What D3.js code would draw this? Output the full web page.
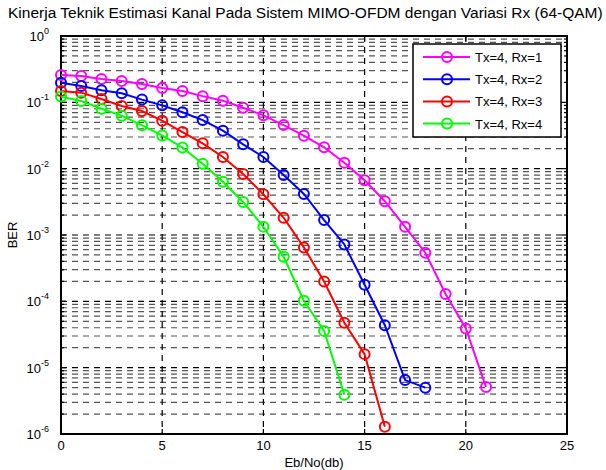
<!DOCTYPE html>
<html><head><meta charset="utf-8">
<script src="https://cdn.jsdelivr.net/npm/d3@7"></script>
<style>body{margin:0;background:#fff}svg{display:block;font-family:"Liberation Sans",Arial,sans-serif}</style>
</head><body><svg id="c" width="606" height="470"></svg>
<script>
const title = "Kinerja Teknik Estimasi Kanal Pada Sistem MIMO-OFDM dengan Variasi Rx (64-QAM)";
const xLabel = "Eb/No(db)";
const yLabel = "BER";
const xTicks = [0,5,10,15,20,25];
const yExps = [0,-1,-2,-3,-4,-5,-6];
const seriesNames = ["Tx=4, Rx=1","Tx=4, Rx=2","Tx=4, Rx=3","Tx=4, Rx=4"];
const seriesColors = ["#ff00ff","#0000ff","#ff0000","#00ff00"];
const rx1 = [0.258,0.249,0.225,0.21,0.189,0.164,0.148,0.124,0.106,0.083,0.0637,0.0455,0.0314,0.021,0.0123,0.00667,0.00323,0.00133,5.4e-4,1.29e-4,3.9e-5,5.1e-6];
const rx2 = [0.198,0.176,0.152,0.137,0.11,0.09,0.0708,0.054,0.0374,0.0233,0.015,0.008,0.00416,0.00168,7.2e-4,1.78e-4,4.36e-5,6.5e-6,5.0e-6];
const rx3 = [0.148,0.14,0.112,0.088,0.074,0.0529,0.0357,0.0241,0.015,0.0083,0.0041,0.00182,6.5e-4,1.99e-4,4.76e-5,1.6e-5,1.29e-6];
const rx4 = [0.122,0.105,0.08,0.063,0.045,0.0317,0.0208,0.0119,0.00636,0.00315,0.00133,4.7e-4,1.02e-4,3.57e-5,3.9e-6];
const allSeries = [rx1,rx2,rx3,rx4];

const svg = d3.select("#c");
const L=61,R=567,T=36,B=434;
const x = d3.scaleLinear().domain([0,25]).range([L,R]);
const y = d3.scaleLog().domain([1e-6,1]).range([B,T]);

// grid
const g = svg.append("g");
const minorVals = [];
for (let e=-6;e<0;e++) for (let m=2;m<=9;m++) minorVals.push(m*Math.pow(10,e));
g.selectAll(".hmin").data(minorVals).enter().append("line")
 .attr("x1",L).attr("x2",R).attr("y1",d=>y(d)).attr("y2",d=>y(d))
 .attr("stroke","#555").attr("stroke-width",1.2).attr("stroke-dasharray","6,5");
g.selectAll(".hmaj").data(yExps.slice(1,-1)).enter().append("line")
 .attr("x1",L).attr("x2",R).attr("y1",d=>y(Math.pow(10,d))).attr("y2",d=>y(Math.pow(10,d)))
 .attr("stroke","#000").attr("stroke-width",1.2).attr("stroke-dasharray","6,5");
g.selectAll(".vmaj").data(xTicks.slice(1,-1)).enter().append("line")
 .attr("x1",d=>x(d)).attr("x2",d=>x(d)).attr("y1",T).attr("y2",B)
 .attr("stroke","#000").attr("stroke-width",1.2).attr("stroke-dasharray","6,5");

// ticks inside
const tk = svg.append("g").attr("stroke","#000").attr("stroke-width",1.2);
xTicks.forEach(v=>{
  tk.append("line").attr("x1",x(v)).attr("x2",x(v)).attr("y1",B).attr("y2",B-5);
  tk.append("line").attr("x1",x(v)).attr("x2",x(v)).attr("y1",T).attr("y2",T+5);
});
yExps.forEach(e=>{
  const yy=y(Math.pow(10,e));
  tk.append("line").attr("x1",L).attr("x2",L+5).attr("y1",yy).attr("y2",yy);
  tk.append("line").attr("x1",R).attr("x2",R-5).attr("y1",yy).attr("y2",yy);
});
minorVals.forEach(v=>{
  const yy=y(v);
  tk.append("line").attr("x1",L).attr("x2",L+3).attr("y1",yy).attr("y2",yy);
  tk.append("line").attr("x1",R).attr("x2",R-3).attr("y1",yy).attr("y2",yy);
});

// box
svg.append("rect").attr("x",L).attr("y",T).attr("width",R-L).attr("height",B-T)
 .attr("fill","none").attr("stroke","#000").attr("stroke-width",2);

// x labels
svg.selectAll(".xl").data(xTicks).enter().append("text")
 .attr("x",d=>x(d)).attr("y",B+16).attr("text-anchor","middle")
 .attr("font-size",13).text(d=>d);
// y labels
yExps.forEach(e=>{
  const t = svg.append("text").attr("x",L-12).attr("y",y(Math.pow(10,e))+5)
    .attr("text-anchor","end").attr("font-size",13);
  t.append("tspan").text("10");
  t.append("tspan").attr("font-size",9).attr("dy",-7).text(e);
});

// axis titles
svg.append("text").attr("x",(L+R)/2).attr("y",467).attr("text-anchor","middle").attr("font-size",13).text(xLabel);
svg.append("text").attr("transform",`translate(17,${(T+B)/2}) rotate(-90)`).attr("text-anchor","middle").attr("font-size",13).text(yLabel);
const tt = svg.append("text").attr("x",8).attr("y",18).attr("text-anchor","start").attr("font-size",13).text(title);
const w = tt.node().getComputedTextLength();
tt.attr("font-size", 13*595/w);

// series
const line = d3.line().x((d,i)=>x(i)).y(d=>y(d));
allSeries.forEach((s,k)=>{
  const sg = svg.append("g");
  sg.append("path").attr("d",line(s)).attr("fill","none").attr("stroke",seriesColors[k]).attr("stroke-width",2);
  sg.selectAll("circle").data(s).enter().append("circle")
    .attr("cx",(d,i)=>x(i)).attr("cy",d=>y(d)).attr("r",5)
    .attr("fill","none").attr("stroke",seriesColors[k]).attr("stroke-width",2);
});

// legend
const lg = svg.append("g");
lg.append("rect").attr("x",413).attr("y",44).attr("width",148).attr("height",93)
  .attr("fill","#fff").attr("stroke","#000").attr("stroke-width",1.5);
seriesNames.forEach((n,k)=>{
  const yy = 57 + k*22.2;
  lg.append("line").attr("x1",423).attr("x2",470).attr("y1",yy).attr("y2",yy).attr("stroke",seriesColors[k]).attr("stroke-width",2);
  lg.append("circle").attr("cx",447).attr("cy",yy).attr("r",5).attr("fill","none").attr("stroke",seriesColors[k]).attr("stroke-width",2);
  lg.append("text").attr("x",475).attr("y",yy+5).attr("font-size",13).text(n);
});
</script></body></html>
